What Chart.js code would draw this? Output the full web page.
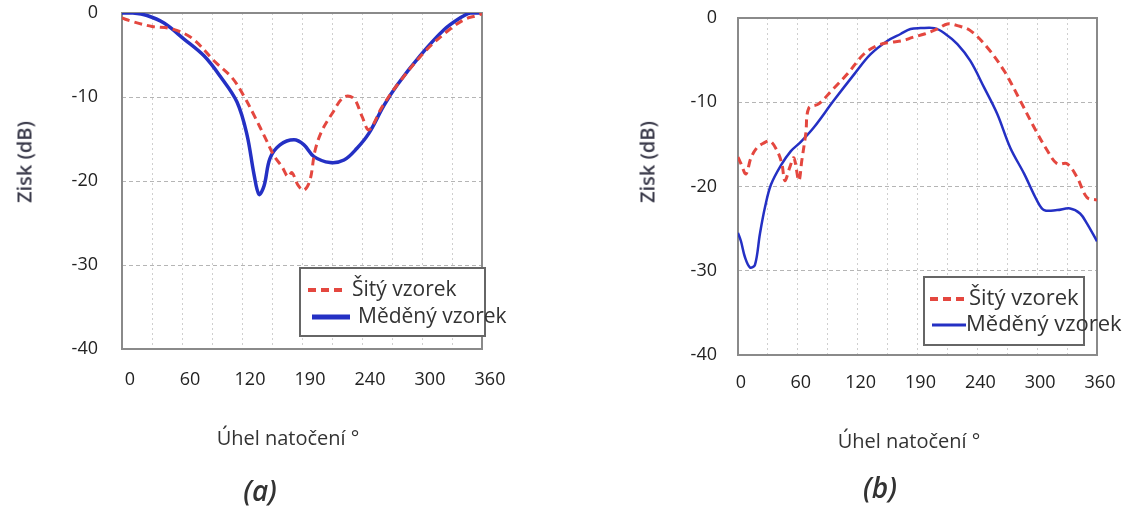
<!DOCTYPE html>
<html>
<head>
<meta charset="utf-8">
<script src="https://cdn.jsdelivr.net/npm/chart.js@4/dist/chart.umd.min.js"></script>
<style>
  body { margin: 0; background: #fff; width: 1137px; height: 511px; overflow: hidden; font-family: "Open Sans", sans-serif; color: #333; }
  canvas { position: absolute; top: 0; }
  #chartA { left: 0; }
  #chartB { left: 600px; }
  .lbl { position: absolute; transform: translate(-50%, -50%); white-space: nowrap; }
  .ytitle { font-size: 20px; font-weight: 600; color: #3a3a4a; transform: translate(-50%, -50%) rotate(-90deg); }
  .xtitle { font-size: 20px; color: #333; }
  .cap { font-size: 28px; font-style: italic; font-weight: 600; color: #333; }
</style>
</head>
<body>
<canvas id="chartA" width="540" height="511"></canvas>
<canvas id="chartB" width="537" height="511"></canvas>

<div class="lbl ytitle" style="left:24px; top:162px">Zisk (dB)</div>
<div class="lbl ytitle" style="left:647px; top:162px">Zisk (dB)</div>
<div class="lbl xtitle" style="left:288px; top:437px">Úhel natočení °</div>
<div class="lbl xtitle" style="left:909px; top:440px">Úhel natočení °</div>
<div class="lbl cap" style="left:260px; top:490px">(a)</div>
<div class="lbl cap" style="left:880px; top:487px">(b)</div>

<script>
// tick labels as printed in the figure
const xTickLabels = ['0', '60', '120', '190', '240', '300', '360']
const seriesNames = ['Šitý vzorek', 'Měděný vzorek']

// (a) šitý vzorek
const aSitAngle = [0, 10, 30, 50, 70, 93, 110, 122, 133, 143, 152, 160, 166, 170, 176, 182, 188, 193, 200, 210, 222, 232, 240, 247, 260, 275, 302, 325, 342, 355, 360]
const aSitGain = [-0.6, -1.0, -1.6, -1.9, -3.0, -5.8, -7.7, -9.9, -12.4, -14.8, -17.0, -18.3, -19.5, -19.0, -20.5, -21.1, -19.9, -16.4, -14.0, -12.0, -10.0, -10.2, -12.3, -13.9, -11.2, -8.6, -4.7, -2.2, -0.8, -0.3, -0.1]

// (a) měděný vzorek
const aMedAngle = [0, 10, 25, 42, 62, 82, 98, 115, 125, 132, 137, 142, 148, 158, 172, 182, 192, 208, 222, 235, 247, 262, 275, 298, 322, 338, 348, 360]
const aMedGain = [0, 0, -0.3, -1.2, -3.1, -5.1, -7.5, -10.6, -14.5, -19.2, -21.6, -20.6, -17.3, -15.7, -15.1, -15.7, -17.1, -17.8, -17.5, -16.1, -14.3, -11.0, -8.6, -5.1, -2.0, -0.6, 0, 0]

// (b) šitý vzorek
const bSitAngle = [0, 3, 8, 13, 19, 25, 32, 39, 44, 47, 52, 56, 61, 64, 68, 71, 81, 94, 110, 126, 139, 152, 165, 175, 187, 200, 210, 220, 233, 250, 267, 283, 297, 310, 320, 330, 340, 350, 360]
const bSitGain = [-16.5, -17.3, -18.5, -16.6, -15.4, -14.9, -14.6, -15.7, -17.3, -19.3, -17.7, -16.6, -19.3, -16.9, -13.7, -10.7, -10.2, -8.6, -6.6, -4.3, -3.3, -2.9, -2.7, -2.3, -1.9, -1.3, -0.7, -0.9, -1.5, -3.5, -6.3, -9.8, -13.0, -15.7, -17.3, -17.3, -18.9, -21.3, -21.6]

// (b) měděný vzorek
const bMedAngle = [0, 3, 7, 12, 17, 22, 27, 33, 43, 53, 63, 76, 96, 117, 133, 150, 163, 173, 183, 197, 207, 220, 233, 247, 260, 273, 287, 300, 307, 320, 333, 343, 350, 360]
const bMedGain = [-25.5, -26.5, -28.4, -29.6, -29.3, -25.6, -22.5, -19.8, -17.5, -15.8, -14.7, -13.0, -9.8, -6.6, -4.3, -2.7, -1.9, -1.3, -1.2, -1.2, -1.8, -3.1, -5.1, -8.3, -11.4, -15.4, -18.5, -21.7, -22.8, -22.8, -22.6, -23.2, -24.4, -26.5]

const RED = '#e4473f'
const BLUE = '#2430c4'
const FONT = '"Open Sans", sans-serif'

const toPoints = (xs, ys) => xs.map((x, i) => ({ x: x, y: ys[i] }))

// gray frame around the plot area
const framePlugin = {
  id: 'frame',
  beforeDatasetsDraw(chart) {
    const { ctx, chartArea: a } = chart
    ctx.save()
    ctx.strokeStyle = '#8a8a8a'
    ctx.lineWidth = 2
    ctx.strokeRect(a.left, a.top, a.right - a.left, a.bottom - a.top)
    ctx.restore()
  }
}

// legend drawn in a box inside the plot
const boxLegendPlugin = {
  id: 'boxLegend',
  afterDatasetsDraw(chart, args, opts) {
    const { ctx } = chart
    ctx.save()
    ctx.fillStyle = '#fff'
    ctx.fillRect(opts.x, opts.y, opts.w, opts.h)
    ctx.strokeStyle = '#666'
    ctx.lineWidth = 2
    ctx.strokeRect(opts.x, opts.y, opts.w, opts.h)
    ctx.font = `${opts.fontSize}px ${FONT}`
    ctx.textBaseline = 'middle'
    chart.data.datasets.forEach((ds, i) => {
      const y = opts.y + opts.rowTop + i * opts.rowGap
      ctx.beginPath()
      ctx.strokeStyle = ds.borderColor
      ctx.lineWidth = opts.lineWidths[i]
      ctx.setLineDash(ds.borderDash || [])
      ctx.moveTo(opts.x + opts.lineStart[i], y)
      ctx.lineTo(opts.x + opts.lineEnd[i], y)
      ctx.stroke()
      ctx.setLineDash([])
      ctx.fillStyle = '#333'
      ctx.fillText(ds.label, opts.x + opts.textStart[i], y)
    })
    ctx.restore()
  }
}

const makeChart = (canvas, sit, med, cfg) => new Chart(canvas, {
  type: 'line',
  data: {
    datasets: [
      { label: seriesNames[0], data: sit, borderColor: RED, borderWidth: 3, borderDash: [8, 5], pointRadius: 0, tension: 0.35 },
      { label: seriesNames[1], data: med, borderColor: BLUE, borderWidth: cfg.blueWidth, pointRadius: 0, tension: 0.35 }
    ]
  },
  options: {
    responsive: false,
    animation: false,
    layout: { padding: cfg.padding },
    plugins: {
      legend: { display: false },
      tooltip: { enabled: false },
      boxLegend: cfg.legend
    },
    scales: {
      x: {
        type: 'linear',
        min: 0,
        max: 360,
        afterFit: s => { s.height = cfg.xHeight; s.paddingLeft = 0; s.paddingRight = 0 },
        grid: { color: '#cfcfcf', lineWidth: 1, drawTicks: false },
        border: { display: false, dash: [2, 3] },
        ticks: {
          stepSize: 30,
          autoSkip: false,
          maxRotation: 0,
          padding: cfg.xPad,
          labelOffset: cfg.labelOffset,
          color: '#222',
          font: { family: FONT, size: 18 },
          callback: v => (v % 60 === 0 ? xTickLabels[v / 60] : '')
        }
      },
      y: {
        min: -40,
        max: 0,
        afterFit: s => { s.width = cfg.yWidth; s.paddingTop = 0; s.paddingBottom = 0 },
        grid: { color: '#b5b5b5', lineWidth: 1, drawTicks: false },
        border: { display: false, dash: [4, 3] },
        ticks: {
          stepSize: 10,
          padding: cfg.yPad,
          color: '#222',
          font: { family: FONT, size: 18 }
        }
      }
    }
  },
  plugins: [framePlugin, boxLegendPlugin]
})

makeChart(document.getElementById('chartA'), toPoints(aSitAngle, aSitGain), toPoints(aMedAngle, aMedGain), {
  padding: { left: 0, right: 58, top: 13, bottom: 0 },
  yWidth: 122,
  xHeight: 162,
  xPad: 20,
  yPad: 24,
  labelOffset: 8,
  blueWidth: 3.5,
  legend: {
    x: 300, y: 268, w: 185, h: 68, fontSize: 21, rowTop: 22, rowGap: 27,
    lineStart: [8, 12], lineEnd: [46, 50], textStart: [52, 58], lineWidths: [4, 5]
  }
})

makeChart(document.getElementById('chartB'), toPoints(bSitAngle, bSitGain), toPoints(bMedAngle, bMedGain), {
  padding: { left: 0, right: 40, top: 18, bottom: 0 },
  yWidth: 138,
  xHeight: 156,
  xPad: 17,
  yPad: 21,
  labelOffset: 3,
  blueWidth: 2.5,
  legend: {
    x: 324, y: 277, w: 160, h: 68, fontSize: 22, rowTop: 22, rowGap: 26,
    lineStart: [6, 8], lineEnd: [40, 42], textStart: [45, 42], lineWidths: [4, 3]
  }
})
</script>
</body>
</html>
